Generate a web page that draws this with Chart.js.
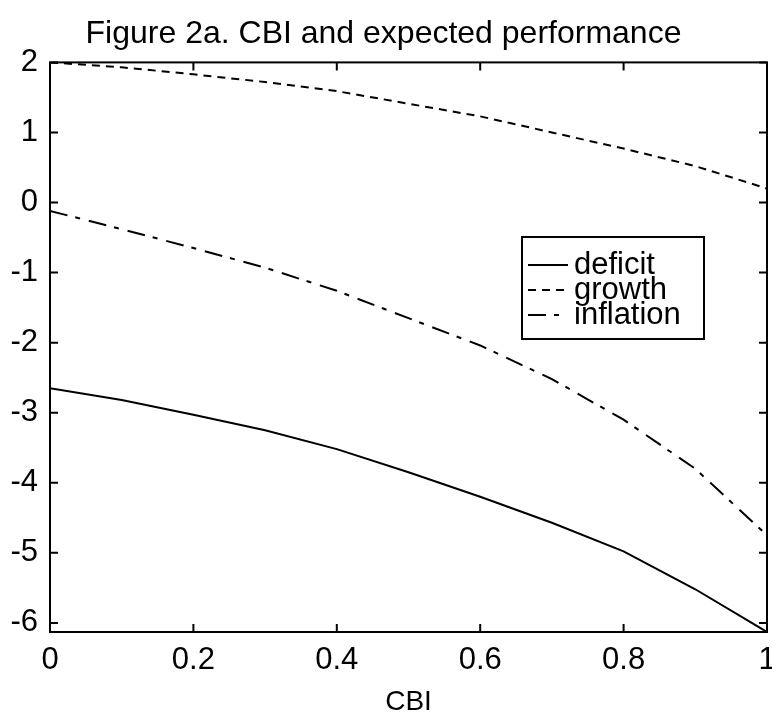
<!DOCTYPE html>
<html>
<head>
<meta charset="utf-8">
<script src="https://cdn.jsdelivr.net/npm/chart.js@4"></script>
<style>
  html, body { margin: 0; padding: 0; background: #fff; }
  #wrap { width: 772px; height: 717px; }
</style>
</head>
<body>
<div id="wrap"><canvas id="chart"></canvas></div>
<script>
// CBI values along the x axis
const cbi = [0, 0.1, 0.2, 0.3, 0.4, 0.5, 0.6, 0.7, 0.8, 0.9, 1.0];

// expected performance
const deficit = [-2.65, -2.82, -3.03, -3.25, -3.52, -3.85, -4.2, -4.57, -4.98, -5.52, -6.13];
const growth = [2.0, 1.93, 1.83, 1.72, 1.59, 1.41, 1.23, 1.0, 0.77, 0.52, 0.2];
const inflation = [-0.12, -0.38, -0.65, -0.93, -1.26, -1.65, -2.04, -2.52, -3.1, -3.8, -4.75];

const seriesNames = ["deficit", "growth", "inflation"];

const xTicks = [0, 0.2, 0.4, 0.6, 0.8, 1];
const xTickLabels = ["0", "0.2", "0.4", "0.6", "0.8", "1"];
const yTicks = [-6, -5, -4, -3, -2, -1, 0, 1, 2];

const FONT = "'Liberation Sans', Arial, Helvetica, sans-serif";

const dashes = [[], [8, 6], [18, 8, 5, 9]];

function pts(ys) {
  return cbi.map((x, i) => ({ x: x, y: ys[i] }));
}

// MATLAB-style box with ticks pointing inward
const boxPlugin = {
  id: "box",
  afterDraw(chart) {
    const { ctx, chartArea: a, scales } = chart;
    ctx.save();
    ctx.strokeStyle = "#000";
    ctx.lineWidth = 2;
    ctx.strokeRect(a.left, a.top, a.right - a.left, a.bottom - a.top);
    ctx.beginPath();
    const tl = 8;
    xTicks.forEach(v => {
      const px = scales.x.getPixelForValue(v);
      ctx.moveTo(px, a.bottom); ctx.lineTo(px, a.bottom - tl);
      ctx.moveTo(px, a.top); ctx.lineTo(px, a.top + tl);
    });
    yTicks.forEach(v => {
      const py = scales.y.getPixelForValue(v);
      ctx.moveTo(a.left, py); ctx.lineTo(a.left + tl, py);
      ctx.moveTo(a.right, py); ctx.lineTo(a.right - tl, py);
    });
    ctx.stroke();
    ctx.restore();
  }
};

// legend box inside the plot, like the matlab one
const legendPlugin = {
  id: "boxLegend",
  afterDraw(chart) {
    const ctx = chart.ctx;
    const x0 = 522, y0 = 237, w = 182, h = 102;
    ctx.save();
    ctx.fillStyle = "#fff";
    ctx.fillRect(x0, y0, w, h);
    ctx.strokeStyle = "#000";
    ctx.lineWidth = 2;
    ctx.strokeRect(x0, y0, w, h);
    ctx.font = "31px " + FONT;
    ctx.textBaseline = "middle";
    ctx.fillStyle = "#000";
    chart.data.datasets.forEach((ds, i) => {
      const cy = y0 + 28 + i * 25;
      ctx.beginPath();
      ctx.setLineDash(ds.borderDash || []);
      ctx.lineWidth = 2;
      ctx.moveTo(x0 + 6, cy);
      ctx.lineTo(x0 + 46, cy);
      ctx.stroke();
      ctx.setLineDash([]);
      ctx.fillText(ds.label, x0 + 52, cy);
    });
    ctx.restore();
  }
};

new Chart(document.getElementById("chart"), {
  type: "line",
  data: {
    datasets: [deficit, growth, inflation].map((ys, i) => ({
      label: seriesNames[i],
      data: pts(ys),
      borderColor: "#000",
      borderWidth: 2,
      borderDash: dashes[i],
      pointRadius: 0,
      tension: 0,
      fill: false
    }))
  },
  options: {
    responsive: true,
    maintainAspectRatio: false,
    animation: false,
    layout: { padding: { left: 0, right: 5, top: 0, bottom: 0 } },
    plugins: {
      legend: { display: false },
      tooltip: { enabled: false },
      title: {
        display: true,
        text: "Figure 2a. CBI and expected performance",
        color: "#000",
        font: { family: FONT, size: 32, weight: "normal", lineHeight: 1.2 },
        padding: { top: 15, bottom: 9 }
      }
    },
    scales: {
      x: {
        type: "linear",
        min: 0,
        max: 1,
        grid: { display: false, drawTicks: false },
        border: { display: false },
        afterBuildTicks: s => { s.ticks = xTicks.map(v => ({ value: v })); },
        afterFit: s => { s.height = 85; s.paddingRight = 0; s.paddingLeft = 0; },
        ticks: {
          color: "#000",
          padding: 10,
          maxRotation: 0,
          font: { family: FONT, size: 31 },
          callback: (v, i) => xTickLabels[i]
        },
        title: {
          display: true,
          text: "CBI",
          color: "#000",
          font: { family: FONT, size: 28, lineHeight: 1 },
          padding: { top: 0, bottom: 1 }
        }
      },
      y: {
        type: "linear",
        min: -6.13,
        max: 2,
        grid: { display: false, drawTicks: false },
        border: { display: false },
        afterBuildTicks: s => { s.ticks = yTicks.map(v => ({ value: v })); },
        afterFit: s => { s.width = 50; },
        ticks: {
          color: "#000",
          padding: 12,
          font: { family: FONT, size: 31 },
          callback: v => String(v)
        }
      }
    }
  },
  plugins: [boxPlugin, legendPlugin]
});
</script>
</body>
</html>
